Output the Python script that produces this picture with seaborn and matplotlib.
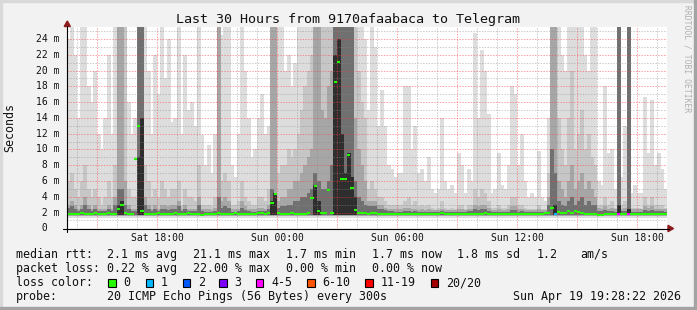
import numpy as np
import pandas as pd
import matplotlib
matplotlib.use("Agg")
import matplotlib.pyplot as plt
from matplotlib.lines import Line2D
from matplotlib.patches import Rectangle, Polygon
import seaborn as sns

# ---------------- data (10-minute steps, 30 hours, ms) ----------------
F = 26.0  # value above the top of the chart (clipped)

smoke_max = [24, F, 22, 14, F, F, 18, 16, 20, 12, 10, 14, 22, 12, F, F, F, F, 16, 12, 14, F, F, F, 20, 12, 22, 17, F, 19,
             24, 13.5, 14, F, 12, 22, 15, 16, 13, F, 11.8, 8, 10.5, 7, 12, F, 24.5, F, F, 8, 6.5, 12, F, 20, 14, 9, 10, 14, 17, 12,
             13, F, F, F, F, 20, 22, 18, 21, F, F, F, F, F, F, F, F, F, F, F, F, F, F, F, F, F, F, F, F, 24,
             15, F, 23, 13, 17.5, 13, 8, 7.5, 6.5, 7, 7, 18, 18, 10, 13, 7, 7.5, 6, 9, 5, 4.5, 5, 14, 6, 5, 5.5, 4.5, 9.5, 8, 4.5,
             7.5, 6, 24.7, 14, 22.6, 20, 14.5, 4.5, 5, 9.5, 5.5, 5, 8, 18, 17, 8, 12, 6, 4, 4.5, 4, 9.8, 4, 3.5, 14, F, F, F, 22, 20,
             F, F, F, F, F, 22, 20, F, F, 6, 5.5, 18, 9.5, 10, 5, F, 6.5, 13, F, 4.5, 5.5, 4.5, 4.5, 16.7, 9.5, 16.2, 8, 9.5, 7.5, 5]

smoke_p80 = [6, 7, 5, 4, 6, 8, 5, 4, 5, 4, 3, 4, 6, 4, 8, F, F, F, 5, 4, 4, F, F, 8, 6, 4, 5, 4, 6, 5,
             4, 5, 5, 6, 3, 5, 4, 4, 3.5, 8, 3, 3, 3, 2.8, 4, F, 6, 7, 6, 3, 3, 3.5, 6, 4, 3.5, 3, 3, 4, 4, 3.5,
             5, F, F, 7, 8, 8, 10, 9, 10, 12, 15, 18, 20, 22, F, F, F, F, F, F, F, F, F, F, F, F, F, 20, 16, 14,
             5, 6, 5, 4, 4, 3.5, 3, 3, 3, 3, 3, 3.5, 4, 3, 3.5, 2.8, 3, 2.8, 3, 2.6, 2.5, 2.6, 3.5, 2.6, 2.5, 2.6, 2.5, 3, 3, 2.5,
             3, 3, 5, 4, 5, 4.5, 3.5, 2.6, 2.6, 3, 2.6, 2.6, 3, 4, 4, 3, 3, 2.6, 2.5, 2.5, 2.5, 3, 2.5, 2.5, 7, F, F, 14, 10, 8,
             14, 20, 10, 12, 15, 10, 12, 9, 8, 3, 3, 4, 3, 3.5, 2.6, F, 3, 3.5, F, 2.6, 2.6, 2.6, 2.5, 4, 3, 4, 3, 3, 3, 2.6]

smoke_p65 = [3, 3.5, 3, 2.5, 3, 4, 3, 2.5, 3, 2.5, 2.5, 2.5, 3, 2.5, 4, F, F, 6, 3, 2.5, 2.5, F, F, 4, 3, 2.5, 3, 2.5, 3, 3,
             2.8, 3, 3, 3.5, 2.5, 3, 2.5, 2.5, 2.5, 4, 2.5, 2.4, 2.4, 2.3, 2.6, F, 3.5, 4, 3.5, 2.4, 2.4, 2.5, 3.5, 2.8, 2.5, 2.4, 2.4, 2.6, 2.6, 2.5,
             3, F, F, 3.5, 4, 4, 5, 5, 6, 6, 7, 8, 9, 10, F, F, 15, 14, 18, 20, F, F, F, F, F, F, 14, 10, 8, 6,
             3.5, 3.5, 3.5, 3, 3, 2.6, 2.5, 2.5, 2.4, 2.4, 2.4, 2.6, 2.6, 2.4, 2.5, 2.3, 2.4, 2.3, 2.4, 2.3, 2.3, 2.3, 2.5, 2.3, 2.3, 2.3, 2.3, 2.4, 2.4, 2.3,
             2.5, 2.5, 3, 2.8, 3, 3, 2.6, 2.3, 2.3, 2.4, 2.3, 2.3, 2.4, 2.8, 2.8, 2.4, 2.5, 2.3, 2.3, 2.3, 2.3, 2.4, 2.3, 2.3, 4, F, F, 6, 5, 4,
             6, 8, 5, 6, 7, 5, 6, 5, 4, 2.6, 2.5, 2.8, 2.5, 2.6, 2.4, F, 2.5, 2.6, F, 2.4, 2.4, 2.4, 2.4, 2.8, 2.6, 2.8, 2.5, 2.5, 2.5, 2.4]

smoke_p55 = [2.6, 2.8, 2.5, 2.2, 2.5, 3, 2.5, 2.2, 2.5, 2.2, 2.2, 2.2, 2.5, 2.2, 3, 5, 5, 3, 2.5, 2.2, 2.2, F, F, 3, 2.5, 2.2, 2.5, 2.2, 2.5, 2.5,
             2.3, 2.5, 2.5, 2.8, 2.2, 2.4, 2.2, 2.2, 2.2, 3, 2.2, 2.1, 2.1, 2.1, 2.2, 4, 2.6, 2.8, 2.6, 2.1, 2.1, 2.2, 2.6, 2.3, 2.2, 2.1, 2.1, 2.2, 2.2, 2.2,
             2.4, 5, 4, 2.6, 2.8, 2.8, 3, 3, 3.5, 3.5, 4, 4, 4.5, 5, 7, 6, 5, 5, 6, 8, F, F, F, F, F, F, 6, 4, 3.5, 3,
             2.8, 2.8, 2.8, 2.5, 2.5, 2.3, 2.2, 2.2, 2.1, 2.1, 2.1, 2.2, 2.2, 2.1, 2.2, 2.1, 2.1, 2.1, 2.1, 2.1, 2.1, 2.1, 2.2, 2.1, 2.1, 2.1, 2.1, 2.1, 2.1, 2.1,
             2.2, 2.2, 2.4, 2.3, 2.4, 2.4, 2.2, 2.1, 2.1, 2.1, 2.1, 2.1, 2.1, 2.3, 2.3, 2.1, 2.2, 2.1, 2.1, 2.1, 2.1, 2.1, 2.1, 2.1, 3, 10, 7, 3.5, 3, 2.8,
             3.5, 4, 3, 3.5, 4, 3, 3.5, 3, 3, 2.2, 2.2, 2.3, 2.2, 2.2, 2.1, F, 2.2, 2.2, F, 2.1, 2.1, 2.1, 2.1, 2.3, 2.2, 2.3, 2.2, 2.2, 2.2, 2.1]

core_cols = [15, 16, 21, 22, 61, 62, 74, 75, 80, 81, 82, 83, 84, 85, 86, 146, 165, 168]
core_vals = [3, 3.5, 9, 14, 3.5, 4.5, 5.5, 3.5, 22, 24, 12, 7, 9.5, 6.5, 4, 3, 3, 2.5]

median_rtt = [1.8, 1.8, 1.8, 1.8, 1.9, 1.8, 1.8, 1.8, 1.9, 1.8, 1.8, 1.8, 1.9, 1.8, 1.8, 2.4, 3.0, 1.9, 1.8, 1.8, 8.8, 13.0, 2.2, 1.8, 1.8, 1.8, 1.8, 1.9, 1.8, 1.8,
              1.8, 1.8, 1.9, 1.8, 1.8, 1.8, 1.9, 1.8, 1.8, 1.8, 1.7, 1.8, 1.8, 1.8, 1.8, 1.9, 1.8, 1.8, 1.8, 1.8, 1.9, 1.8, 1.8, 1.8, 1.8, 1.8, 1.8, 1.9, 1.9, 1.8,
              1.9, 3.2, 4.4, 1.9, 1.8, 1.8, 1.8, 1.9, 1.8, 1.8, 1.8, 1.8, 1.9, 3.8, 5.4, 2.2, 2.0, 1.9, 4.8, 1.9, 18.6, 21.1, 6.2, 6.2, 9.3, 5.1, 2.3, 2.0, 2.0, 1.9,
              1.8, 2.0, 1.9, 1.8, 1.8, 1.8, 1.8, 1.8, 1.8, 1.8, 1.8, 1.8, 1.8, 1.8, 1.8, 1.8, 1.8, 1.8, 1.8, 1.8, 1.8, 1.8, 1.9, 1.8, 1.8, 1.8, 1.8, 1.8, 1.8, 1.8,
              1.8, 1.8, 1.8, 1.8, 1.8, 1.9, 1.8, 1.8, 1.8, 1.8, 1.8, 1.8, 1.8, 1.8, 1.8, 1.8, 1.8, 1.8, 1.8, 1.8, 1.8, 1.8, 1.8, 1.9, 2.0, 2.6, 1.8, 2.1, 1.9, 1.9,
              2.2, 1.9, 2.2, 2.1, 1.9, 1.8, 1.8, 1.8, 1.8, 1.7, 1.7, 1.8, 1.8, 1.8, 1.8, 1.8, 1.8, 1.8, 1.8, 1.8, 1.8, 1.8, 1.8, 1.8, 1.8, 1.8, 1.8, 1.8, 1.8, 1.8]

loss_cols = [146, 165, 168]
loss_class = [1, 4, 4]

loss_labels = ["0", "1", "2", "3", "4-5", "6-10", "11-19", "20/20"]
loss_colors = ["#26ff00", "#00b8ff", "#0059ff", "#7e00ff", "#ff00ff", "#ff5500", "#ff0000", "#a10000"]

y_ticks = [0, 2, 4, 6, 8, 10, 12, 14, 16, 18, 20, 22, 24]
y_ticklabels = [" 0", " 2 m", " 4 m", " 6 m", " 8 m", "10 m", "12 m", "14 m", "16 m", "18 m", "20 m", "22 m", "24 m"]
x_ticks_h = [4.5, 10.5, 16.5, 22.5, 28.5]
x_ticklabels = ["Sat 18:00", "Sun 00:00", "Sun 06:00", "Sun 12:00", "Sun 18:00"]

title = "Last 30 Hours from 9170afaabaca to Telegram"
rtt_label = "median rtt:"
rtt_stats = ["2.1 ms avg", "21.1 ms max", "1.7 ms min", "1.7 ms now", "1.8 ms sd", "1.2", "am/s"]
loss_label = "packet loss:"
loss_stats = ["0.22 % avg", "22.00 % max", "0.00 % min", "0.00 % now"]
color_label = "loss color:"
probe_label = "probe:"
probe_text = "20 ICMP Echo Pings (56 Bytes) every 300s"
stamp = "Sun Apr 19 19:28:22 2026"
credit = "RRDTOOL / TOBI OETIKER"

# ---------------- figure ----------------
sns.set_theme(style="white")
plt.rcParams["font.family"] = ["DejaVu Sans Mono", "DejaVu Sans"]

W, H = 697, 310
BG = "#f2f2f2"
fig = plt.figure(figsize=(W / 100, H / 100), dpi=100, facecolor=BG)


def fx(x):
    return x / W


def fy(y):
    return 1 - y / H


X0, X1, Y0, Y1 = 67, 667, 228.3, 27.3
ax = fig.add_axes([fx(X0), fy(Y0), (X1 - X0) / W, (Y0 - Y1) / H])
ax.set_facecolor("white")
n = len(smoke_max)
step_h = 30 / n
t_mid = (np.arange(n) + 0.5) * step_h
t_left = np.arange(n) * step_h

core = np.zeros(n)
core[core_cols] = core_vals

bands = [
    (smoke_max, 1.30, "#dddddd"),
    (smoke_p80, 1.55, "#c6c6c6"),
    (smoke_p65, 1.60, "#a6a6a6"),
    (smoke_p55, 1.65, "#707070"),
    (core, 1.65, "#2e2e2e"),
]
for vals, base, col in bands:
    v = np.asarray(vals, dtype=float)
    df = pd.DataFrame({"t": t_mid, "h": np.clip(v - base, 0, None)})
    sns.barplot(data=df, x="t", y="h", native_scale=True, orient="x", width=1.12,
                color=col, saturation=1, errorbar=None, linewidth=0,
                antialiased=False, bottom=base, ax=ax, zorder=2)

ax.set_xlim(0, 30)
ax.set_ylim(0, (Y0 - Y1) / 7.89)
ax.set_xticks([])
ax.set_yticks([])
ax.set_xlabel("")
ax.set_ylabel("")
for s in ax.spines.values():
    s.set_visible(False)

# grid (drawn on top of the smoke, like rrdtool)
minor_c = (0.55, 0.55, 0.55, 0.45)
major_c = (1.0, 0.25, 0.25, 0.5)
dots = (0, (1.4, 1.4))
for h in np.arange(0.5, 30, 1.0):
    is_major = abs(((h - 1.5) / 3) - round((h - 1.5) / 3)) < 1e-6
    ax.axvline(h, color=major_c if is_major else minor_c, lw=0.72, ls=dots, zorder=5)
for yv in range(1, 26):
    ax.axhline(yv, color=major_c if yv % 2 == 0 else minor_c, lw=0.72, ls=dots, zorder=5)

# median rtt coloured by loss
med_cols = [loss_colors[0]] * n
for c, k in zip(loss_cols, loss_class):
    med_cols[c] = loss_colors[k]
ax.hlines(median_rtt, t_left, t_left + step_h, colors=med_cols, lw=1.5, zorder=7,
          capstyle="butt")

# axes lines + arrows
fig.add_artist(Line2D([fx(63), fx(669)], [fy(228.5), fy(228.5)], color="black", lw=0.8))
fig.add_artist(Line2D([fx(67.3), fx(67.3)], [fy(232), fy(26)], color="black", lw=0.8))
arrow_c = "#8e1b1b"
fig.add_artist(Polygon([(fx(64.2), fy(26.5)), (fx(70.4), fy(26.5)), (fx(67.3), fy(21))],
                       closed=True, color=arrow_c, transform=fig.transFigure))
fig.add_artist(Polygon([(fx(668), fy(225.3)), (fx(668), fy(231.7)), (fx(673.5), fy(228.5))],
                       closed=True, color=arrow_c, transform=fig.transFigure))

txt = "#111111"
# y tick labels
for yv, lab in zip(y_ticks, y_ticklabels):
    fig.text(fx(36), fy(Y0 - yv * 7.89), lab, ha="left", va="center", fontsize=7, color=txt)
# x tick labels
for h, lab in zip(x_ticks_h, x_ticklabels):
    fig.text(fx(X0 + h * 20), fy(237.7), lab, ha="center", va="center", fontsize=7, color=txt)

fig.text(fx(348.5), fy(23.3), title, ha="center", va="baseline", fontsize=9.6, color=txt)
fig.text(fx(10), fy(127.5), "Seconds", rotation=90, ha="center", va="center", fontsize=8.4, color=txt)
fig.text(fx(686.5), fy(58.5), credit, rotation=270, ha="center", va="center", fontsize=5.8, color="#b0b0b0")

LF = 8.4
r1, r2, r3, r4 = 257.7, 271.9, 286.2, 300.3
fig.text(fx(16), fy(r1), rtt_label, fontsize=LF, va="baseline", color=txt)
for x, s in zip([107.3, 192.7, 286, 372.3, 457, 537, 580], rtt_stats):
    fig.text(fx(x), fy(r1), s, fontsize=LF, va="baseline", color=txt)
fig.text(fx(16), fy(r2), loss_label, fontsize=LF, va="baseline", color=txt)
for x, s in zip([107.3, 192.7, 286, 372.3], loss_stats):
    fig.text(fx(x), fy(r2), s, fontsize=LF, va="baseline", color=txt)
fig.text(fx(16), fy(r3), color_label, fontsize=LF, va="baseline", color=txt)
box_x = [108.3, 145.7, 182.7, 219.3, 256, 307.3, 365.3, 430.7]
for bx, lab, col in zip(box_x, loss_labels, loss_colors):
    fig.add_artist(Rectangle((fx(bx), fy(286.6)), 7.4 / W, 8.0 / H, facecolor=col,
                             edgecolor="black", lw=0.8, transform=fig.transFigure))
    fig.text(fx(bx + 15), fy(r3), lab, fontsize=LF, va="baseline", color=txt)
fig.text(fx(16), fy(r4), probe_label, fontsize=LF, va="baseline", color=txt)
fig.text(fx(107.3), fy(r4), probe_text, fontsize=LF, va="baseline", color=txt)
fig.text(fx(513.3), fy(r4), stamp, fontsize=LF, va="baseline", color=txt)

# frame
fig.add_artist(Rectangle((0, fy(2)), 1, 2 / H, color="#d9d9d9", transform=fig.transFigure))
fig.add_artist(Rectangle((0, 0), 2 / W, 1, color="#d9d9d9", transform=fig.transFigure))
fig.add_artist(Rectangle((0, 0), 1, 3 / H, color="#a3a3a3", transform=fig.transFigure))
fig.add_artist(Rectangle((1 - 3 / W, 0), 3 / W, 1, color="#a3a3a3", transform=fig.transFigure))

fig.savefig("out.png", dpi=100, facecolor=BG)
